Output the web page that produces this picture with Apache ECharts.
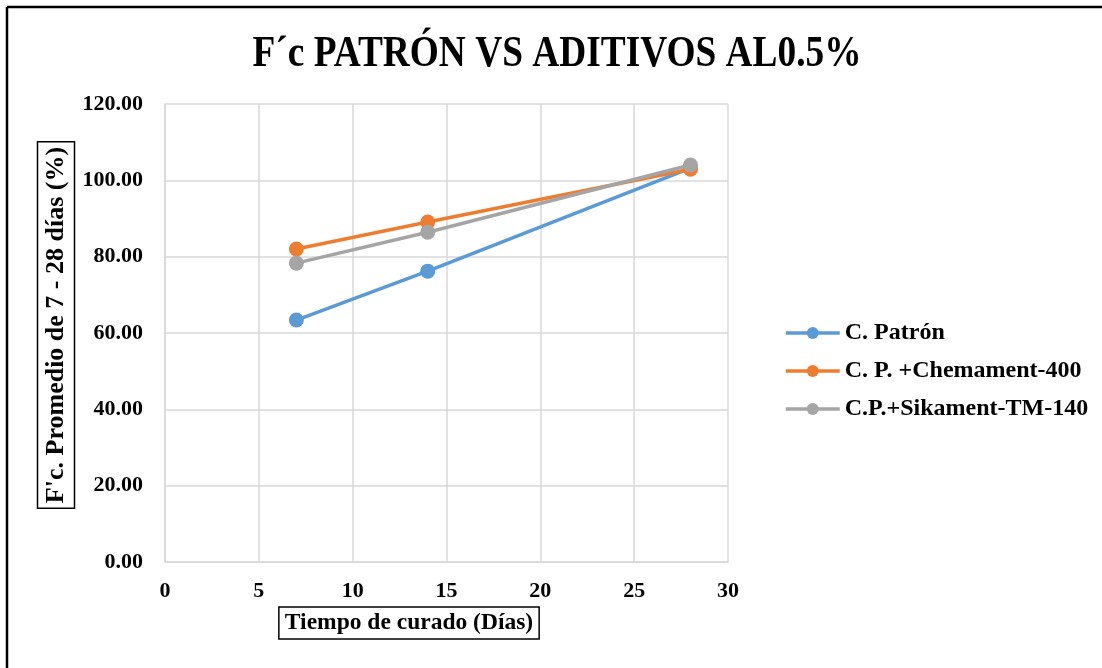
<!DOCTYPE html>
<html>
<head>
<meta charset="utf-8">
<script src="https://cdn.jsdelivr.net/npm/echarts@6/dist/echarts.min.js"></script>
<style>
html,body{margin:0;padding:0;background:#fff;}
#c{width:1102px;height:668px;}
</style>
</head>
<body>
<div id="c"></div>
<script>
const days = [7, 14, 28];
const patron = [63.4, 76.2, 103.2];
const chemament = [82.0, 89.1, 102.9];
const sikament = [78.3, 86.4, 104.0];
const seriesNames = ['C. Patrón', 'C. P. +Chemament-400', 'C.P.+Sikament-TM-140'];
const colors = ['#5B9BD5', '#ED7D31', '#A5A5A5'];
const titleText = 'F´c PATRÓN VS ADITIVOS AL0.5%';
const xName = 'Tiempo de curado (Días)';
const yName = "F'c. Promedio de 7 - 28 días (%)";

const fontFam = '"Liberation Serif", "Times New Roman", serif';
const chart = echarts.init(document.getElementById('c'), null, {renderer: 'canvas'});

function pts(vals) { return days.map((d, i) => [d, vals[i]]); }
const allVals = [patron, chemament, sikament];

chart.setOption({
  animation: false,
  backgroundColor: '#fff',
  graphic: [
    {type: 'line', shape: {x1: 7, y1: 7, x2: 7, y2: 668}, style: {stroke: '#000', lineWidth: 2.5}},
    {type: 'line', shape: {x1: 7, y1: 7, x2: 1102, y2: 7}, style: {stroke: '#000', lineWidth: 2.5}},
    {type: 'text', x: 557, y: 54, scaleX: 0.83,
      style: {text: titleText, fill: '#000', font: 'bold 45px ' + fontFam,
        align: 'center', verticalAlign: 'middle'}},
    {type: 'text', x: 409, y: 623,
      style: {text: xName, fill: '#000', font: 'bold 23.5px ' + fontFam,
        align: 'center', verticalAlign: 'middle',
        borderColor: '#000', borderWidth: 1.5, padding: [5, 6, 3, 6]}},
    {type: 'text', x: 56, y: 325, rotation: Math.PI / 2,
      style: {text: yName, fill: '#000', font: 'bold 26px ' + fontFam,
        align: 'center', verticalAlign: 'middle',
        borderColor: '#000', borderWidth: 1.5, padding: [6, 5, 5, 5]}}
  ],
  legend: {
    orient: 'vertical', left: 779, top: 316, itemGap: 14,
    itemWidth: 54, itemHeight: 15,
    lineStyle: {width: 3.5},
    textStyle: {fontFamily: fontFam, fontWeight: 'bold', fontSize: 24, color: '#000'},
    data: seriesNames
  },
  grid: {left: 165, right: 374, top: 104, bottom: 106},
  xAxis: {
    type: 'value', min: 0, max: 30, interval: 5,
    axisLine: {show: true, lineStyle: {color: '#D9D9D9', width: 1.5}},
    axisTick: {show: false},
    splitLine: {show: true, lineStyle: {color: '#D9D9D9', width: 1.5}},
    axisLabel: {fontFamily: fontFam, fontWeight: 'bold', fontSize: 22, color: '#000', margin: 18}
  },
  yAxis: {
    type: 'value', min: 0, max: 120, interval: 20,
    axisLine: {show: true, lineStyle: {color: '#D9D9D9', width: 1.5}},
    axisTick: {show: false},
    splitLine: {show: true, lineStyle: {color: '#D9D9D9', width: 1.5}},
    axisLabel: {fontFamily: fontFam, fontWeight: 'bold', fontSize: 22, color: '#000', margin: 22,
      formatter: v => v.toFixed(2)}
  },
  series: seriesNames.map((n, i) => ({
    name: n, type: 'line', data: pts(allVals[i]),
    symbol: 'circle', symbolSize: 15,
    lineStyle: {color: colors[i], width: 3.5},
    itemStyle: {color: colors[i]},
    z: i === 2 ? 4 : (i === 1 ? 3 : 2)
  }))
});
</script>
</body>
</html>
